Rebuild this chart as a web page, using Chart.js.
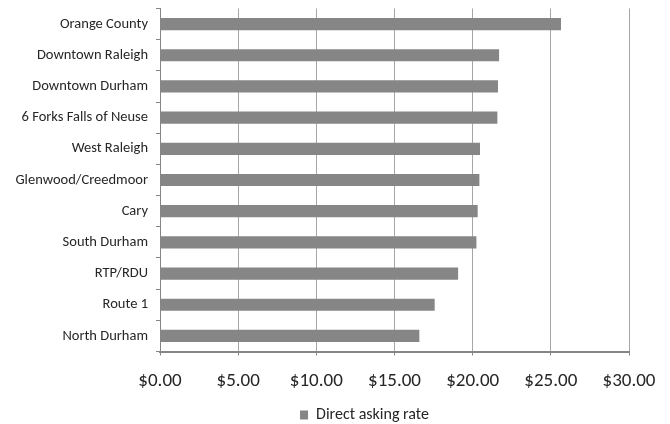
<!DOCTYPE html>
<html>
<head>
<meta charset="utf-8">
<script src="https://cdn.jsdelivr.net/npm/chart.js@4/dist/chart.umd.min.js"></script>
<style>
    html, body { margin: 0; padding: 0; background: #ffffff; }
    #wrap { width: 670px; height: 424px; position: relative; }
</style>
</head>
<body>
<div id="wrap"><canvas id="rate-chart"></canvas></div>
<script>
// ---- chart data ----
const submarkets = [
    'Orange County', 'Downtown Raleigh', 'Downtown Durham', '6 Forks Falls of Neuse',
    'West Raleigh', 'Glenwood/Creedmoor', 'Cary', 'South Durham',
    'RTP/RDU', 'Route 1', 'North Durham'
];
const askingRates = [25.65, 21.69, 21.62, 21.58, 20.47, 20.43, 20.32, 20.24, 19.07, 17.57, 16.59];
const rateTicks = [0, 5, 10, 15, 20, 25, 30];
const seriesName = 'Direct asking rate';

const FONT = "Carlito, 'Liberation Sans Narrow', 'Liberation Sans', sans-serif";
const LEGEND_SHIFT_X = 50; // the legend sits right of centre in the original
const LEGEND_SHIFT_Y = 9;

// nudge the bottom legend after layout
const legendShift = {
    id: 'legendShift',
    afterLayout(chart) {
        const lg = chart.legend;
        if (!lg) return;
        lg.left += LEGEND_SHIFT_X;
        lg.right += LEGEND_SHIFT_X;
        lg.top += LEGEND_SHIFT_Y;
        lg.bottom += LEGEND_SHIFT_Y;
    }
};

const ctx = document.getElementById('rate-chart').getContext('2d');
new Chart(ctx, {
    type: 'bar',
    data: {
        labels: submarkets,
        datasets: [{
            label: seriesName,
            data: askingRates,
            backgroundColor: '#868686',
            borderWidth: 0,
            barPercentage: 0.39,
            categoryPercentage: 1
        }]
    },
    plugins: [legendShift],
    options: {
        indexAxis: 'y',
        responsive: true,
        maintainAspectRatio: false,
        animation: false,
        layout: { padding: { left: 0, right: 41, top: 8.5, bottom: 0 } },
        plugins: {
            tooltip: { enabled: false },
            legend: {
                position: 'bottom',
                labels: {
                    color: '#262626',
                    boxWidth: 8,
                    boxHeight: 9,
                    padding: 1,
                    font: { family: FONT, size: 16 }
                }
            }
        },
        scales: {
            x: {
                min: 0,
                max: 30,
                afterBuildTicks: (scale) => { scale.ticks = rateTicks.map((v) => ({ value: v })); },
                afterFit: (scale) => { scale.height = 45.5; },
                ticks: {
                    color: '#262626',
                    padding: 14,
                    font: { family: FONT, size: 19 },
                    callback: (v) => '$' + Number(v).toFixed(2)
                },
                grid: { color: '#a6a6a6', lineWidth: 1, tickLength: 4, tickColor: '#868686' },
                border: { color: '#868686', width: 2 }
            },
            y: {
                afterFit: (scale) => {
                    scale.width = 160;
                    scale.paddingTop = 0;
                    scale.paddingBottom = 0;
                },
                ticks: {
                    color: '#262626',
                    padding: 8,
                    font: { family: FONT, size: 14.5 }
                },
                grid: { offset: true, drawOnChartArea: false, tickLength: 4, color: '#868686' },
                border: { color: '#868686', width: 1 }
            }
        }
    }
});
</script>
</body>
</html>
